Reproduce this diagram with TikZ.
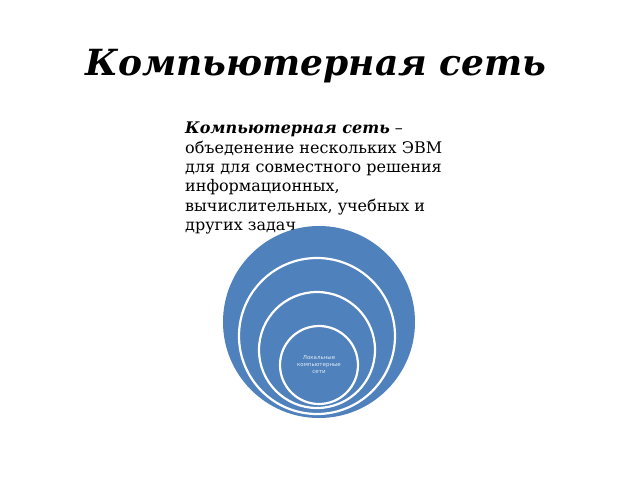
\documentclass[tikz,border=0pt]{standalone}
\usepackage{fontspec}
\setmainfont{DejaVu Serif}
\setsansfont{DejaVu Sans}
\definecolor{ringblue}{HTML}{4F81BD}
\begin{document}
\begin{tikzpicture}[x=1pt,y=-1pt,
  ring/.style={circle,fill=ringblue,draw=white,line width=2.2pt,inner sep=0pt},
  bodytext/.style={anchor=north west,align=left,font=\fontsize{16}{19.3}\selectfont,inner sep=0pt}]
\useasboundingbox[fill=white] (0,0) rectangle (640,480);
\node[anchor=base,inner sep=0pt,font=\fontsize{36}{44}\bfseries\itshape\selectfont] (title) at (316,75) {Компьютерная сеть};
\node[bodytext] (body) at (185,122) {\textbf{\textit{Компьютерная сеть}} –\\объеденение нескольких ЭВМ\\для для совместного решения\\информационных,\\вычислительных, учебных и\\других задач};
\node[ring,draw=none,minimum size=192pt] (c1) at (319,322) {};
\node[ring,minimum size=156pt] (c2) at (317,336) {};
\node[ring,minimum size=116pt] (c3) at (317,350) {};
\node[ring,minimum size=78pt] (c4) at (319,365) {};
\node[align=center,text=white!85!ringblue,font=\sffamily\fontsize{5.5}{7}\selectfont,inner sep=0pt] (lbl) at (319,365) {Локальные\\компьютерные\\сети};
\end{tikzpicture}
\end{document}
